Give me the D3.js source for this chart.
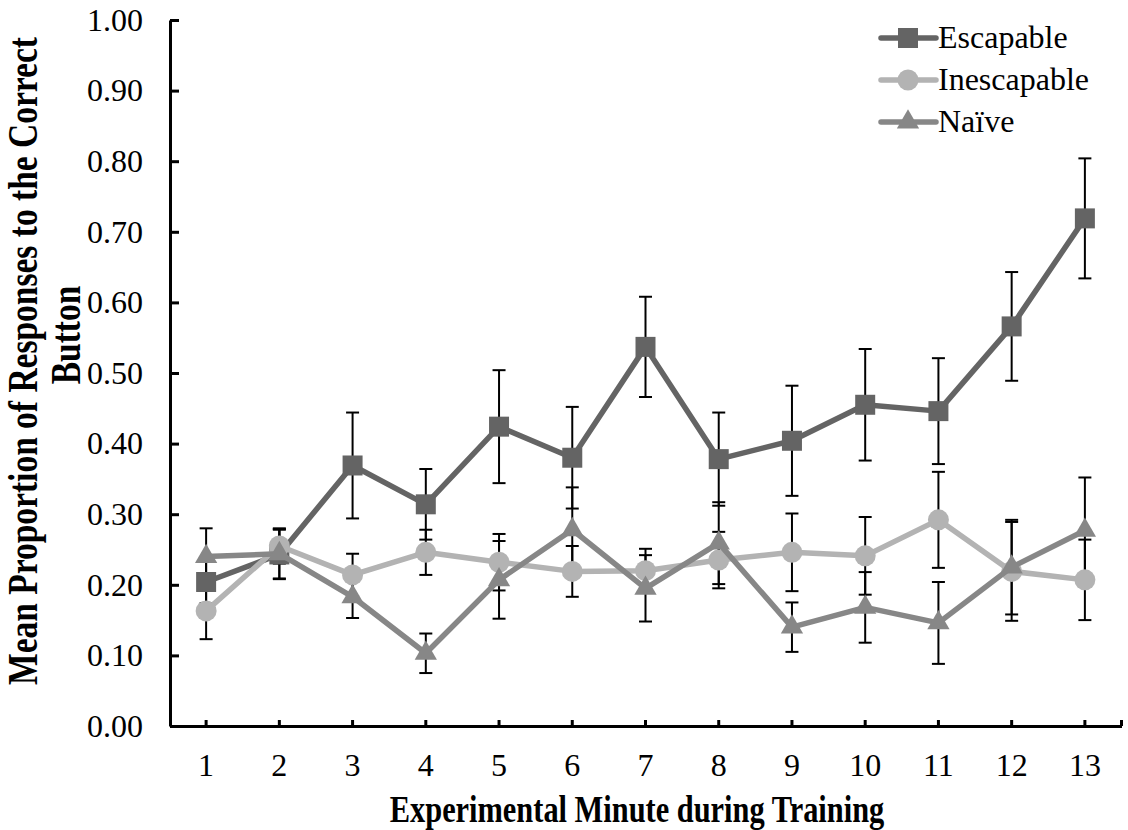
<!DOCTYPE html>
<html><head><meta charset="utf-8">
<script src="https://cdn.jsdelivr.net/npm/d3@7"></script>
<style>body{margin:0;background:#fff} svg{display:block} text{font-family:'Liberation Serif','Times New Roman',serif}</style>
</head><body><svg id="c" width="1128" height="830"></svg>
<script>
const categories = ["1","2","3","4","5","6","7","8","9","10","11","12","13"];
const escapable    = [0.204,0.243,0.369,0.314,0.424,0.380,0.537,0.378,0.404,0.455,0.446,0.566,0.719];
const escapableErr = [0.030,0.035,0.075,0.050,0.080,0.072,0.071,0.066,0.078,0.079,0.075,0.077,0.085];
const inescapable    = [0.163,0.255,0.214,0.246,0.232,0.219,0.220,0.235,0.246,0.241,0.292,0.219,0.207];
const inescapableErr = [0.040,0.025,0.030,0.032,0.040,0.036,0.031,0.040,0.055,0.055,0.068,0.070,0.057];
const naive    = [0.240,0.244,0.183,0.103,0.207,0.278,0.195,0.259,0.140,0.168,0.146,0.225,0.277];
const naiveErr = [0.040,0.035,0.030,0.028,0.055,0.060,0.047,0.058,0.035,0.050,0.058,0.067,0.075];
const yTicks = [0,0.1,0.2,0.3,0.4,0.5,0.6,0.7,0.8,0.9,1.0];
const seriesNames = ["Escapable","Inescapable","Naïve"];
const xTitle = "Experimental Minute during Training";
const yTitleLines = ["Mean Proportion of Responses to the Correct","Button"];

const seriesColors = ["#646464","#b3b3b3","#878787"];
const markerTypes = [d3.symbolSquare, d3.symbolCircle, d3.symbolTriangle];
const markerSizes = [400, 346, 215];
const series = [
  {name: seriesNames[0], values: escapable, errs: escapableErr},
  {name: seriesNames[1], values: inescapable, errs: inescapableErr},
  {name: seriesNames[2], values: naive, errs: naiveErr}
];

const FONT = "'Liberation Serif','Times New Roman',serif";
const svg = d3.select("#c");
const x = d3.scaleBand().domain(categories).range([169.5, 1121.5]).padding(0);
const y = d3.scaleLinear().domain([0,1]).range([726, 20]);
const cx = c => x(c) + x.bandwidth()/2;

// error bars
const eb = svg.append("g").attr("stroke","#000").attr("stroke-width",2);
series.forEach(s => {
  categories.forEach((c,i) => {
    const v = s.values[i], e = s.errs[i], px = cx(c);
    eb.append("line").attr("x1",px).attr("x2",px).attr("y1",y(v+e)).attr("y2",y(v-e));
    [v+e, v-e].forEach(t => eb.append("line").attr("x1",px-6.5).attr("x2",px+6.5).attr("y1",y(t)).attr("y2",y(t)));
  });
});

// lines + markers
const line = d3.line().x((d,i)=>cx(categories[i])).y(d=>y(d));
series.forEach((s,k) => {
  svg.append("path").attr("d", line(s.values)).attr("fill","none")
    .attr("stroke", seriesColors[k]).attr("stroke-width",5.5).attr("stroke-linejoin","round");
  const sym = d3.symbol().type(markerTypes[k]).size(markerSizes[k]);
  svg.append("g").selectAll("path").data(s.values).join("path")
    .attr("d", sym).attr("fill", seriesColors[k])
    .attr("transform",(d,i)=>`translate(${cx(categories[i])},${y(d)})`);
});

// axes
const yAxis = d3.axisLeft(y).tickValues(yTicks).tickFormat(d3.format(".2f"))
  .tickSizeInner(-9).tickSizeOuter(0).tickPadding(27);
const gy = svg.append("g").attr("transform","translate(170,0)").call(yAxis);
gy.attr("font-family",null).attr("font-size",null);
gy.select(".domain").attr("stroke","#000").attr("stroke-width",3);
gy.selectAll(".tick line").attr("stroke","#000").attr("stroke-width",3);
gy.selectAll(".tick text").style("font-family",FONT).style("font-size","32px").attr("fill","#000");

const xAxis = d3.axisBottom(x).tickSizeInner(-6).tickSizeOuter(0).tickPadding(27);
const gx = svg.append("g").attr("transform","translate(0,726)").call(xAxis);
gx.attr("font-family",null).attr("font-size",null);
gx.select(".domain").attr("stroke","#000").attr("stroke-width",3);
gx.selectAll(".tick line").attr("stroke","#000").attr("stroke-width",3);
gx.selectAll(".tick text").style("font-family",FONT).style("font-size","32px").attr("fill","#000");
gx.append("line").attr("x1",x.range()[1]).attr("x2",x.range()[1]).attr("y1",0).attr("y2",-6)
  .attr("stroke","#000").attr("stroke-width",3);

// titles
svg.append("text").attr("transform","translate(637,822) scale(1,1.28)")
  .attr("text-anchor","middle").style("font-family",FONT).attr("font-weight","bold")
  .style("font-size","30.4px").attr("fill","#000").text(xTitle);
const yt = svg.append("g");
yTitleLines.forEach((t,i) => {
  yt.append("text").attr("transform",`translate(${[37,80][i]},${[361,335][i]}) rotate(-90) scale(1,1.25)`)
    .attr("text-anchor","middle").style("font-family",FONT).attr("font-weight","bold")
    .style("font-size","33.5px").attr("fill","#000").text(t);
});

// legend
const lg = svg.append("g");
series.forEach((s,k) => {
  const ly = 38 + k*42;
  lg.append("line").attr("x1",881).attr("x2",936).attr("y1",ly).attr("y2",ly)
    .attr("stroke",seriesColors[k]).attr("stroke-width",5.5).attr("stroke-linecap","round");
  lg.append("path").attr("d", d3.symbol().type(markerTypes[k]).size(markerSizes[k])())
    .attr("fill",seriesColors[k]).attr("transform",`translate(908,${ly})`);
  lg.append("text").attr("x",938).attr("y",ly+10).style("font-family",FONT)
    .style("font-size","32px").attr("fill","#000").text(s.name);
});
</script></body></html>
